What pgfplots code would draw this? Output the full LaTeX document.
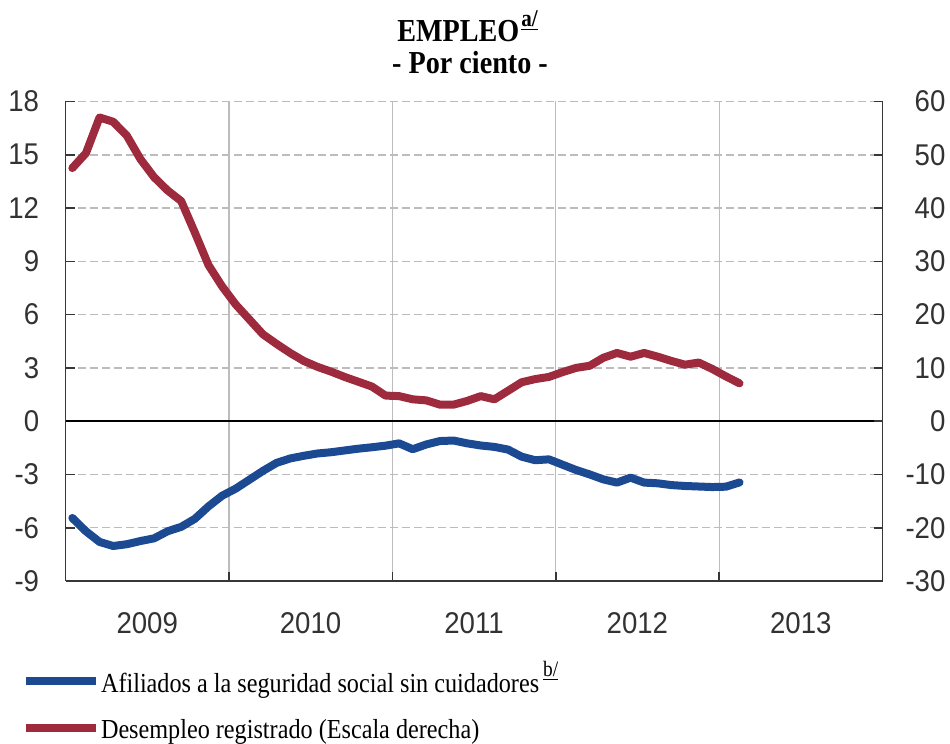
\documentclass[border=0pt]{standalone}
\usepackage{pgfplots}
\usepackage{pgfplotstable}
\pgfplotsset{compat=1.18}
\usepackage{fontspec}
\setmainfont{Liberation Serif}[FakeStretch=0.88]
\newfontfamily\tickfont{Liberation Sans}[FakeStretch=0.92]
\definecolor{serieblue}{RGB}{28,74,146}
\definecolor{seriered}{RGB}{158,42,62}
\definecolor{gridgray}{RGB}{188,188,188}
\definecolor{axisgray}{RGB}{55,55,55}
\definecolor{ticktext}{RGB}{50,50,50}

% month index (Jan 2009 = 0.5), year-on-year rate (%)
\pgfplotstableread{
m v
0.5 -5.45
1.5 -6.2
2.5 -6.8
3.5 -7.03
4.5 -6.93
5.5 -6.75
6.5 -6.6
7.5 -6.2
8.5 -5.95
9.5 -5.5
10.5 -4.8
11.5 -4.2
12.5 -3.8
13.5 -3.3
14.5 -2.8
15.5 -2.35
16.5 -2.1
17.5 -1.95
18.5 -1.82
19.5 -1.75
20.5 -1.65
21.5 -1.55
22.5 -1.47
23.5 -1.38
24.5 -1.25
25.5 -1.58
26.5 -1.31
27.5 -1.12
28.5 -1.09
29.5 -1.25
30.5 -1.37
31.5 -1.45
32.5 -1.6
33.5 -2.0
34.5 -2.2
35.5 -2.15
36.5 -2.45
37.5 -2.75
38.5 -3.0
39.5 -3.28
40.5 -3.46
41.5 -3.18
42.5 -3.46
43.5 -3.5
44.5 -3.6
45.5 -3.65
46.5 -3.68
47.5 -3.71
48.5 -3.69
49.5 -3.45
}\afiliados

\pgfplotstableread{
m v
0.5 47.5
1.5 50.3
2.5 57.0
3.5 56.2
4.5 53.6
5.5 49.2
6.5 45.8
7.5 43.3
8.5 41.3
9.5 35.4
10.5 29.3
11.5 25.3
12.5 21.9
13.5 19.1
14.5 16.3
15.5 14.5
16.5 12.8
17.5 11.3
18.5 10.2
19.5 9.3
20.5 8.3
21.5 7.4
22.5 6.5
23.5 4.8
24.5 4.7
25.5 4.1
26.5 3.9
27.5 3.1
28.5 3.1
29.5 3.8
30.5 4.7
31.5 4.1
32.5 5.7
33.5 7.3
34.5 7.9
35.5 8.3
36.5 9.2
37.5 10.0
38.5 10.4
39.5 11.9
40.5 12.8
41.5 12.1
42.5 12.8
43.5 12.1
44.5 11.3
45.5 10.6
46.5 11.0
47.5 9.8
48.5 8.4
49.5 7.1
}\desempleo

\pgfplotsset{
  commonaxis/.style={
    at={(0pt,0pt)}, anchor=south west,
    scale only axis, width=408.5pt, height=239.75pt,
    xmin=0, xmax=60,
    tick align=inside,
    axis line style={axisgray, line width=0.8pt},
    tick style={axisgray, line width=0.8pt},
    major tick length=4.5pt,
    minor tick length=4.5pt,
    tick label style={font=\tickfont\fontsize{15}{15}\selectfont, text=ticktext, inner sep=0pt},
    legend cell align=left,
    legend image code/.code={\draw[##1, line width=4pt, line cap=butt] (0pt,1.25pt) -- (35pt,1.25pt);},
  },
}

\begin{document}
\begin{tikzpicture}
\useasboundingbox (-32.75pt,-81.5pt) rectangle (442.25pt,290.5pt);

\begin{axis}[
  commonaxis,
  ymin=-9, ymax=18,
  axis x line*=bottom, axis y line*=left,
  xtick={6,18,30,42,54},
  xticklabels={2009,2010,2011,2012,2013},
  major x tick style={draw=none},
  minor xtick={12,24,36,48},
  xminorgrids=true,
  minor grid style={gridgray, line width=0.6pt, solid},
  xticklabel style={anchor=north, yshift=-15.5pt},
  ytick={-9,-6,-3,0,3,6,9,12,15,18},
  yticklabels={-9,-6,-3,0,3,6,9,12,15,18},
  yticklabel style={anchor=east, xshift=-13pt},
  ymajorgrids=true,
  major grid style={gridgray, line width=0.75pt, dash pattern=on 4pt off 2pt},
  extra y ticks={0},
  extra y tick labels={},
  extra y tick style={major grid style={black, solid, line width=1pt}, major tick length=0pt},
  legend style={at={(-0.0532,-0.2148)}, anchor=west, draw=none, fill=none,
    inner sep=0pt, outer sep=0pt, nodes={inner sep=0pt},
    font=\fontsize{13.75}{13.75}\selectfont,
    /tikz/every odd column/.append style={column sep=0.5pt}},
]
\addplot[serieblue, line width=4pt, line join=round, line cap=round] table[x=m, y=v] {\afiliados};
\addlegendentry{Afiliados a la seguridad social sin cuidadores\hspace{2pt}\raisebox{8pt}[0pt][0pt]{\fontsize{11}{11}\selectfont\underline{b/}}}
\end{axis}

\begin{axis}[
  commonaxis,
  ymin=-30, ymax=60,
  axis y line*=right, axis x line=none,
  ytick={-30,-20,-10,0,10,20,30,40,50,60},
  yticklabels={-30,-20,-10,0,10,20,30,40,50,60},
  yticklabel style={text width=31.25pt, align=right},
  legend style={at={(-0.0532,-0.3118)}, anchor=west, draw=none, fill=none,
    inner sep=0pt, outer sep=0pt, nodes={inner sep=0pt},
    font=\fontsize{13.75}{13.75}\selectfont,
    /tikz/every odd column/.append style={column sep=0.5pt}},
]
\addplot[seriered, line width=4pt, line join=round, line cap=round] table[x=m, y=v] {\desempleo};
\addlegendentry{Desempleo registrado (Escala derecha)}
\end{axis}

\node[anchor=base, font=\bfseries\fontsize{16}{16}\selectfont] at (201pt,269.6pt)
  {EMPLEO\hspace{1pt}\raisebox{7.5pt}{\fontsize{12}{12}\selectfont\underline{a/}}};
\node[anchor=base, font=\bfseries\fontsize{16}{16}\selectfont] at (202.25pt,253.8pt)
  {- Por ciento -};
\end{tikzpicture}
\end{document}
